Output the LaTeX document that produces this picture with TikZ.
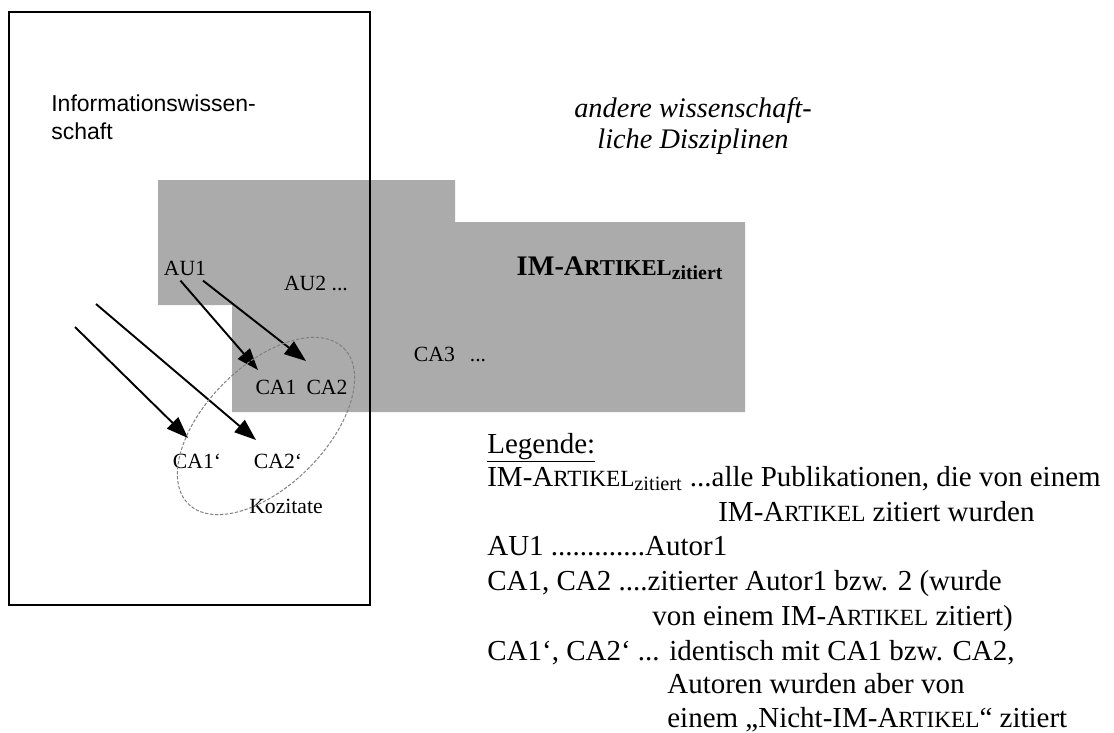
\documentclass[tikz,border=0pt]{standalone}
\usepackage{fontspec}
\setmainfont{Liberation Serif}
\setsansfont{Liberation Sans}
\usetikzlibrary{arrows.meta}

% caps of the word ARTIKEL, the rest set smaller
\newcommand{\imart}{IM-A\scalebox{0.8}{RTIKEL}}

\begin{document}
\begin{tikzpicture}[x=0.6pt, y=-0.6pt,
    lbl/.style={inner sep=0pt, font=\fontsize{13}{13}\selectfont},
    leg/.style={anchor=base west, inner sep=0pt, font=\fontsize{17.4}{17.4}\selectfont},
    arr/.style={-{Triangle[length=13pt, width=9.5pt]}, line width=1.15pt}]
    \useasboundingbox (0,0) rectangle (1114,733);
    % grey area of the cited articles
    \fill[black!33] (158,180) -- (455,180) -- (455,222) -- (745,222) -- (745,412)
        -- (232,412) -- (232,305) -- (158,305) -- cycle;
    \draw[line width=1.5pt] (9,12) rectangle (370,605);
    \node[anchor=north west, align=left, inner sep=0pt,
        font=\sffamily\fontsize{13.8}{16.4}\selectfont] (iw) at (51,95) {Informationswissen-\\schaft};
    \node[anchor=north, align=center, inner sep=0pt, font=\itshape\fontsize{17}{18.6}\selectfont] (andere) at (693,97)
        {andere wissenschaft-\\liche Disziplinen};
    \node[lbl, font=\bfseries\fontsize{17}{17}\selectfont] (imz) at (620,268) {\imart\textsubscript{zitiert}};
    \node[lbl, inner sep=3pt] (au1) at (185,268) {AU1};
    \node[lbl] (au2) at (316,283) {AU2 ...};
    \node[lbl] (ca3) at (450,354) {CA3\hspace{9pt}...};
    \node[lbl] (ca1) at (276,387) {CA1};
    \node[lbl] (ca2) at (327,387) {CA2};
    \node[lbl] (ca1p) at (197,461) {CA1‘};
    \node[lbl] (ca2p) at (278,461) {CA2‘};
    \node[lbl] (koz) at (286,506) {Kozitate};
    % free ends of the arrows
    \coordinate (ta) at (258,370);
    \coordinate (tb) at (306,361);
    \coordinate (sc) at (75,327);
    \coordinate (tc) at (188,438);
    \coordinate (sd) at (96,304);
    \coordinate (td) at (256,440);
    \draw[arr] (au1.-110) -- (ta);
    \draw[arr] (au1.-35) -- (tb);
    \draw[arr] (sc) -- (tc);
    \draw[arr] (sd) -- (td);
    % Kozitate
    \coordinate (kc) at (266,426);
    \draw[gray, dash pattern=on 2pt off 1pt, line width=0.6pt, rotate around={45:(kc)}]
        (kc) ellipse [x radius=110, y radius=60];
    % legend
    \node[leg] (leg0) at (487,453) {\underline{Legende:}};
    \node[leg] (leg1) at (487,486) {\imart\textsubscript{zitiert} ...alle Publikationen, die von einem};
    \node[leg] (leg2) at (718,521) {\imart{} zitiert wurden};
    \node[leg] (leg3) at (487,555) {AU1 .............Autor1};
    \node[leg] (leg4) at (487,590) {CA1, CA2 ....zitierter Autor1 bzw. 2 (wurde};
    \node[leg] (leg5) at (652,625) {von einem \imart{} zitiert)};
    \node[leg] (leg6) at (487,660) {CA1‘, CA2‘ ... identisch mit CA1 bzw. CA2,};
    \node[leg] (leg7) at (667,693) {Autoren wurden aber von};
    \node[leg] (leg8) at (667,727) {einem „Nicht-\imart“ zitiert};
\end{tikzpicture}
\end{document}
